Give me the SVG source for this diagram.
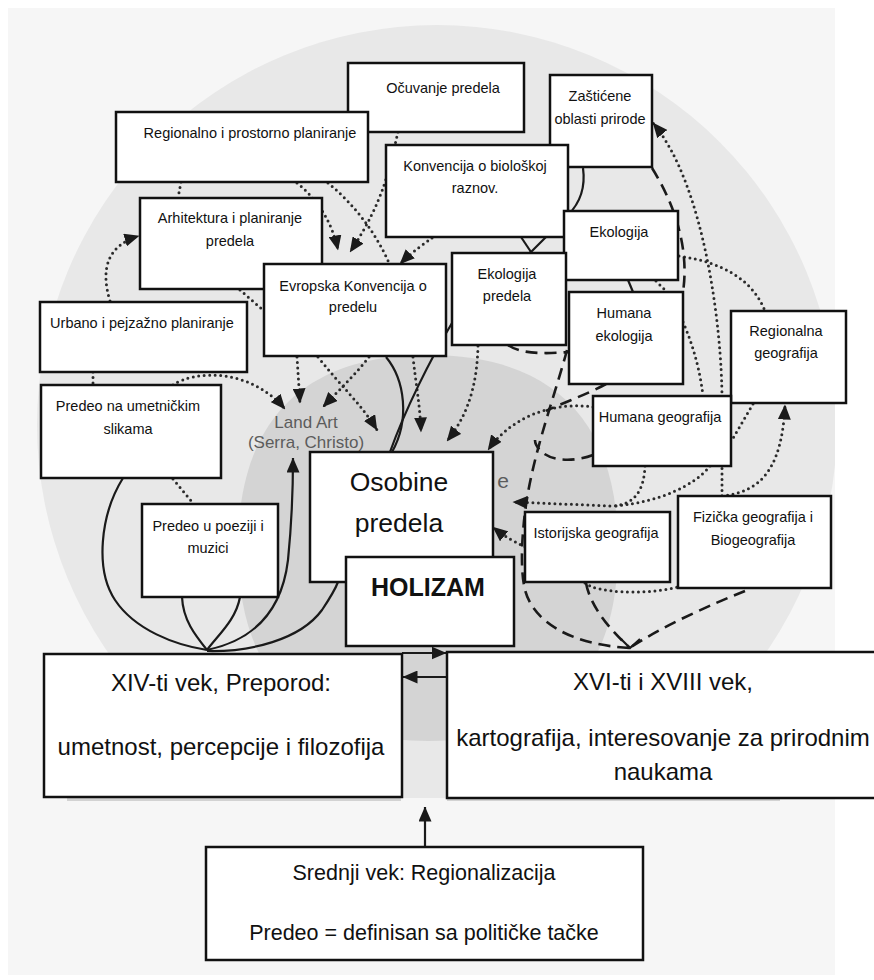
<svg xmlns="http://www.w3.org/2000/svg" width="874" height="980" viewBox="0 0 874 980">
  <defs>
    <style>
      .box { fill:#ffffff; stroke:#111111; stroke-width:2.5; }
      .t { font-family:'Liberation Sans', Arial, sans-serif; font-size:14.5px; fill:#111111; text-anchor:middle; }
      .big { font-size:26.5px; }
      .bold { font-size:25px; font-weight:bold; }
      .era { font-size:24px; }
      .mid { font-size:21.5px; }
      .ghost { font-family:'Liberation Sans', Arial, sans-serif; fill:#5c5c5c; text-anchor:middle; }
      .dot { fill:none; stroke:#2a2a2a; stroke-width:3; stroke-linecap:round; stroke-dasharray:0 5.5; }
      .dash { fill:none; stroke:#1a1a1a; stroke-width:2.6; stroke-dasharray:12 7; }
      .sol { fill:none; stroke:#1a1a1a; stroke-width:2.2; }
    </style>
    <marker id="arr" viewBox="0 0 15 13" refX="14.5" refY="6.5" markerWidth="15" markerHeight="13" markerUnits="userSpaceOnUse" orient="auto">
      <path d="M0,0 L15,6.5 L0,13 Z" fill="#1a1a1a"/>
    </marker>
    <clipPath id="page">
      <rect x="8" y="8" width="827" height="790"/>
    </clipPath>
  </defs>

  <!-- backdrop: page, outer disc and inner core -->
  <rect x="0" y="0" width="874" height="980" fill="#ffffff"/>
  <rect x="8" y="8" width="827" height="967" fill="#f6f6f6"/>
  <circle cx="437" cy="425" r="400" fill="#e8e8e8" clip-path="url(#page)"/>
  <path d="M428,355 C553,355 618,421 618,548 C618,675 553,741 428,741 C303,741 238,675 238,548 C238,421 303,355 428,355 Z" fill="#d4d4d4"/>
  <line x1="67" y1="799.5" x2="401" y2="799.5" stroke="#d2d2d2" stroke-width="3"/>
  <line x1="447" y1="799.5" x2="780" y2="799.5" stroke="#d2d2d2" stroke-width="3"/>
  <text class="ghost" x="306" y="428" font-size="17">Land Art</text>
  <text class="ghost" x="306" y="448" font-size="17">(Serra, Christo)</text>
  <text class="ghost" x="503" y="488" font-size="21">e</text>

  <!-- connectors -->
  <g id="connectors">
    <!-- dotted links -->
    <path class="dot" d="M181,182 L178,198"/>
    <path class="dot" d="M110,301 C100,268 108,245 139,236" marker-end="url(#arr)"/>
    <path class="dot" d="M297,183 C318,200 332,222 338,250" marker-end="url(#arr)"/>
    <path class="dot" d="M328,183 C355,205 378,235 392,270"/>
    <path class="dot" d="M398,132 C390,165 385,200 350,252" marker-end="url(#arr)"/>
    <path class="dot" d="M432,238 C425,243 412,252 400,264" marker-end="url(#arr)"/>
    <path class="dot" d="M240,290 L264,311"/>
    <path class="dot" d="M93,372 L93,385"/>
    <path class="dot" d="M173,385 C195,370 250,368 285,409" marker-end="url(#arr)"/>
    <path class="dot" d="M173,479 L193,503"/>
    <path class="dot" d="M297,357 L300,403" marker-end="url(#arr)"/>
    <path class="dot" d="M318,357 C340,385 362,405 377,430" marker-end="url(#arr)"/>
    <path class="dot" d="M369,357 C355,375 339,390 323,407" marker-end="url(#arr)"/>
    <path class="dot" d="M413,357 C416,385 420,405 421,432" marker-end="url(#arr)"/>
    <path class="dot" d="M478,346 C477,385 468,415 447,441" marker-end="url(#arr)"/>
    <path class="dot" d="M593,407 C560,402 515,412 488,450" marker-end="url(#arr)"/>
    <path class="dot" d="M645,466 C644,490 635,505 612,506 L513,502" marker-end="url(#arr)"/>
    <path class="dot" d="M710,466 C695,485 660,502 615,506"/>
    <path class="dot" d="M525,547 C515,542 505,537 493,527" marker-end="url(#arr)"/>
    <path class="dot" d="M585,583 C595,592 640,596 678,587"/>
    <path class="dot" d="M722,496 C760,492 782,470 785,405" marker-end="url(#arr)"/>
    <path class="dot" d="M722,496 L722,400 C722,330 705,185 653,123" marker-end="url(#arr)"/>
    <path class="dot" d="M679,256 C720,262 752,278 765,311"/>
    <path class="dot" d="M683,322 C693,345 700,370 703,396"/>
    <path class="dot" d="M753,404 L732,440"/>
    <path class="dot" d="M656,281 L667,292"/>

    <!-- dashed links -->
    <path class="dash" d="M652,168 C672,200 690,245 683,292"/>
    <path class="dash" d="M508,345 C520,354 545,354 569,352"/>
    <path class="dash" d="M567,350 C556,392 534,450 526,505 C521,540 521,570 524,585 C530,622 572,645 630,648"/>
    <path class="dash" d="M593,455 C575,462 550,462 540,450 C536,446 535,443 535,440"/>
    <path class="dash" d="M606,384 C590,393 565,402 546,411"/>
    <path class="dash" d="M586,583 C590,605 608,628 630,648"/>
    <path class="dash" d="M745,591 C710,605 665,625 631,647"/>
    <path class="sol" d="M621,639 L630,648 L640,639"/>

    <!-- solid links -->
    <path class="sol" d="M583,168 C586,190 578,205 568,215 L531,252"/>
    <path class="sol" d="M515,228 L531,252"/>
    <path class="sol" d="M531,252 C500,275 470,295 452,323 C430,360 405,410 390,452"/>
    <path class="sol" d="M386,357 C405,380 410,420 392,452"/>
    <path class="sol" d="M628,280 L633,292"/>
    <path class="sol" d="M123,478 C100,515 95,570 115,600 C135,630 175,645 207,650"/>
    <path class="sol" d="M182,597 C183,620 195,635 207,650"/>
    <path class="sol" d="M240,597 C236,620 218,635 207,650"/>
    <path class="sol" d="M207,650 C255,640 282,610 288,560 C292,520 293,490 293,458" marker-end="url(#arr)"/>
    <path class="sol" d="M207,651 C250,652 300,640 322,610 C330,598 335,590 338,582"/>
    <path class="sol" d="M402,653 L446,653" marker-end="url(#arr)"/>
    <path class="sol" d="M447,677 L403,677" marker-end="url(#arr)"/>
    <path class="sol" d="M425,846 L425,807" marker-end="url(#arr)"/>
  </g>

  <!-- nodes -->
  <g id="ocuvanje"><rect class="box" x="348" y="63" width="176" height="69"/><text class="t" x="443" y="93">Očuvanje predela</text></g>
  <g id="regionalno"><rect class="box" x="116" y="112" width="252" height="70"/><text class="t" x="250" y="138">Regionalno i prostorno planiranje</text></g>
  <g id="zasticene"><rect class="box" x="550" y="75" width="102" height="92"/><text class="t" x="600" y="101">Zaštićene</text><text class="t" x="600" y="124">oblasti prirode</text></g>
  <g id="konvencija-bio"><rect class="box" x="386" y="145" width="182" height="92"/><text class="t" x="475" y="171">Konvencija o biološkoj</text><text class="t" x="475" y="193">raznov.</text></g>
  <g id="ekologija"><rect class="box" x="564" y="211" width="114" height="69"/><text class="t" x="619" y="237">Ekologija</text></g>
  <g id="arhitektura"><rect class="box" x="140" y="198" width="182" height="91"/><text class="t" x="230" y="223">Arhitektura i planiranje</text><text class="t" x="230" y="246">predela</text></g>
  <g id="evropska"><rect class="box" x="264" y="264" width="182" height="92"/><text class="t" x="353" y="291">Evropska Konvencija o</text><text class="t" x="353" y="312">predelu</text></g>
  <g id="ekologija-predela"><rect class="box" x="452" y="253" width="114" height="92"/><text class="t" x="507" y="279">Ekologija</text><text class="t" x="507" y="301">predela</text></g>
  <g id="humana-ekologija"><rect class="box" x="569" y="292" width="114" height="92"/><text class="t" x="624" y="318">Humana</text><text class="t" x="624" y="341">ekologija</text></g>
  <g id="regionalna-geografija"><rect class="box" x="731" y="311" width="115" height="92"/><text class="t" x="786" y="336">Regionalna</text><text class="t" x="786" y="358">geografija</text></g>
  <g id="humana-geografija"><rect class="box" x="593" y="396" width="138" height="70"/><text class="t" x="660" y="422">Humana geografija</text></g>
  <g id="urbano"><rect class="box" x="40" y="302" width="207" height="70"/><text class="t" x="142" y="328">Urbano i pejzažno planiranje</text></g>
  <g id="predeo-slike"><rect class="box" x="41" y="385" width="180" height="93"/><text class="t" x="128" y="411">Predeo na umetničkim</text><text class="t" x="128" y="434">slikama</text></g>
  <g id="predeo-poezija"><rect class="box" x="142" y="504" width="136" height="93"/><text class="t" x="208" y="531">Predeo u poeziji i</text><text class="t" x="208" y="553">muzici</text></g>
  <g id="istorijska"><rect class="box" x="525" y="512" width="145" height="70"/><text class="t" x="596" y="538">Istorijska geografija</text></g>
  <g id="fizicka"><rect class="box" x="678" y="496" width="153" height="92"/><text class="t" x="753" y="522">Fizička geografija i</text><text class="t" x="753" y="545">Biogeografija</text></g>
  <g id="osobine"><rect class="box" x="310" y="452" width="183" height="130"/><text class="t big" x="399" y="491">Osobine</text><text class="t big" x="399" y="532">predela</text></g>
  <g id="holizam"><rect class="box" x="346" y="557" width="168" height="89"/><text class="t bold" x="428" y="596">HOLIZAM</text></g>
  <g id="xiv-vek"><rect class="box" x="44" y="654" width="358" height="143"/><text class="t era" x="221" y="691">XIV-ti vek, Preporod:</text><text class="t era" x="221" y="755">umetnost, percepcije i filozofija</text></g>
  <g id="xvi-vek"><rect class="box" x="447" y="652" width="440" height="146"/><text class="t era" x="663" y="690">XVI-ti i XVIII vek,</text><text class="t era" x="663" y="746">kartografija, interesovanje za prirodnim</text><text class="t era" x="663" y="780">naukama</text></g>
  <g id="srednji-vek"><rect class="box" x="206" y="847" width="437" height="113"/><text class="t mid" x="424" y="880">Srednji vek: Regionalizacija</text><text class="t mid" x="424" y="940">Predeo = definisan sa političke tačke</text></g>
</svg>
